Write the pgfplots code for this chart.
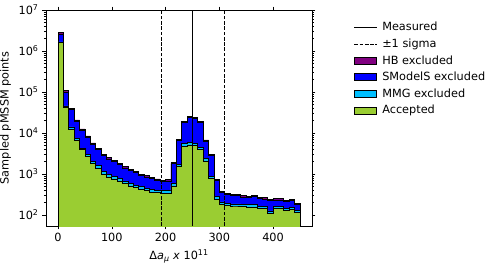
\documentclass[border=0pt]{standalone}
\usepackage{fontspec}
\setmainfont{DejaVu Sans}
\usepackage{pgfplots}
\usepackage{pgfplotstable}
\pgfplotsset{compat=1.18}
\definecolor{hbc}{HTML}{800080}
\definecolor{smc}{HTML}{0000FF}
\definecolor{mmc}{HTML}{00BFFF}
\definecolor{accc}{HTML}{9ACD32}
\newcommand{\myfont}{\fontsize{11.3pt}{13.6pt}\selectfont}
\pgfplotsset{
  lineleg/.style={legend image code/.code={\draw[##1] (0pt,0pt) -- (22.5pt,0pt); \path[draw=none, fill=none] (0pt,0pt) -- (26pt,0pt);}},
  boxleg/.style={legend image code/.code={\draw[##1] (0pt,-3.5pt) rectangle (22.5pt,3.5pt); \path[draw=none, fill=none] (0pt,0pt) -- (26pt,0pt);}},
}

% cumulative stack tops per 10-wide bin (left edge x)
\pgfplotstableread{
x acc mmg smod hb
0 1585000 1660000 2570000 2880000
10 41687 45709 97724 109650
20 12303 14125 37154 39811
30 6457 7413 19498 20893
40 3890 4266 11749 12589
50 2692 3020 7943 8511
60 1778 1995 5370 5754
70 1380 1585 3981 4266
80 1000 1148 2818 3020
90 851 977 2344 2512
100 759 871 1995 2138
110 676 776 1698 1820
120 589 676 1413 1514
130 513 589 1202 1288
140 468 537 1072 1148
150 427 490 933 1000
160 389 447 851 912
170 363 417 776 832
180 355 407 708 759
190 339 389 661 708
200 339 389 676 724
210 513 589 1778 1905
220 1514 1738 6607 7079
230 4786 5623 17783 19055
240 5129 5888 23442 25119
250 4898 5623 22387 23988
260 3890 4467 18197 19498
270 2089 2399 6310 6761
280 776 891 2818 3020
290 240 282 692 741
300 182 209 355 380
310 170 191 316 339
320 166 186 302 324
330 166 186 295 316
340 162 182 275 295
350 158 178 269 288
360 158 178 282 302
370 148 166 257 275
380 145 162 245 263
390 110 126 224 240
400 145 162 234 251
410 148 166 234 251
420 132 148 214 229
430 135 151 229 245
440 115 129 182 195
450 115 129 182 195
}\hist

\begin{document}
\myfont
\begin{tikzpicture}[font=\myfont]
\begin{axis}[
  at={(0pt,0pt)}, anchor=south west,
  scale only axis, width=266pt, height=216pt,
  ymode=log,
  xmin=-22.5, xmax=472.5, ymin=54, ymax=1e7,
  xtick={0,100,200,300,400},
  ytick={1e2,1e3,1e4,1e5,1e6,1e7},
  yticklabels={10\textsuperscript{2},10\textsuperscript{3},10\textsuperscript{4},10\textsuperscript{5},10\textsuperscript{6},10\textsuperscript{7}},
  /pgf/number format/assume math mode=true,
  tick label style={font=\myfont},
  label style={font=\myfont},
  tick align=outside,
  major tick length=3.5pt, minor tick length=2pt,
  tick style={black, line width=0.6pt},
  axis line style={black, line width=0.8pt},
  xlabel={Δ\textit{a}\textsubscript{\textit{μ}} \textit{x} 10\textsuperscript{11}},
  ylabel={Sampled pMSSM points},
  clip=true,
  legend cell align=left,
  legend style={draw=none, fill=none, at={(1.145,0.962)}, anchor=north west,
    row sep=2.3pt, font=\myfont},
]
\addlegendimage{lineleg, black, line width=1pt}
\addlegendentry{Measured}
\addlegendimage{lineleg, black, line width=1pt, dash pattern=on 3.7pt off 1.6pt}
\addlegendentry{±1 sigma}
\addplot[boxleg, const plot, fill=hbc, draw=black, line width=0.7pt] table[x=x, y=hb] {\hist} \closedcycle;
\addlegendentry{HB excluded}
\addplot[boxleg, const plot, fill=smc, draw=black, line width=0.7pt] table[x=x, y=smod] {\hist} \closedcycle;
\addlegendentry{SModelS excluded}
\addplot[boxleg, const plot, fill=mmc, draw=black, line width=0.7pt] table[x=x, y=mmg] {\hist} \closedcycle;
\addlegendentry{MMG excluded}
\addplot[boxleg, const plot, fill=accc, draw=black, line width=0.7pt] table[x=x, y=acc] {\hist} \closedcycle;
\addlegendentry{Accepted}
\addplot[forget plot, black, line width=1pt] coordinates {(251,54) (251,1e7)};
\addplot[forget plot, black, line width=1pt, dash pattern=on 3.7pt off 1.6pt] coordinates {(192,54) (192,1e7)};
\addplot[forget plot, black, line width=1pt, dash pattern=on 3.7pt off 1.6pt] coordinates {(310,54) (310,1e7)};
\end{axis}
\pgfresetboundingbox
\path (-46pt,-40pt) rectangle (453pt,226pt);
\end{tikzpicture}
\end{document}
